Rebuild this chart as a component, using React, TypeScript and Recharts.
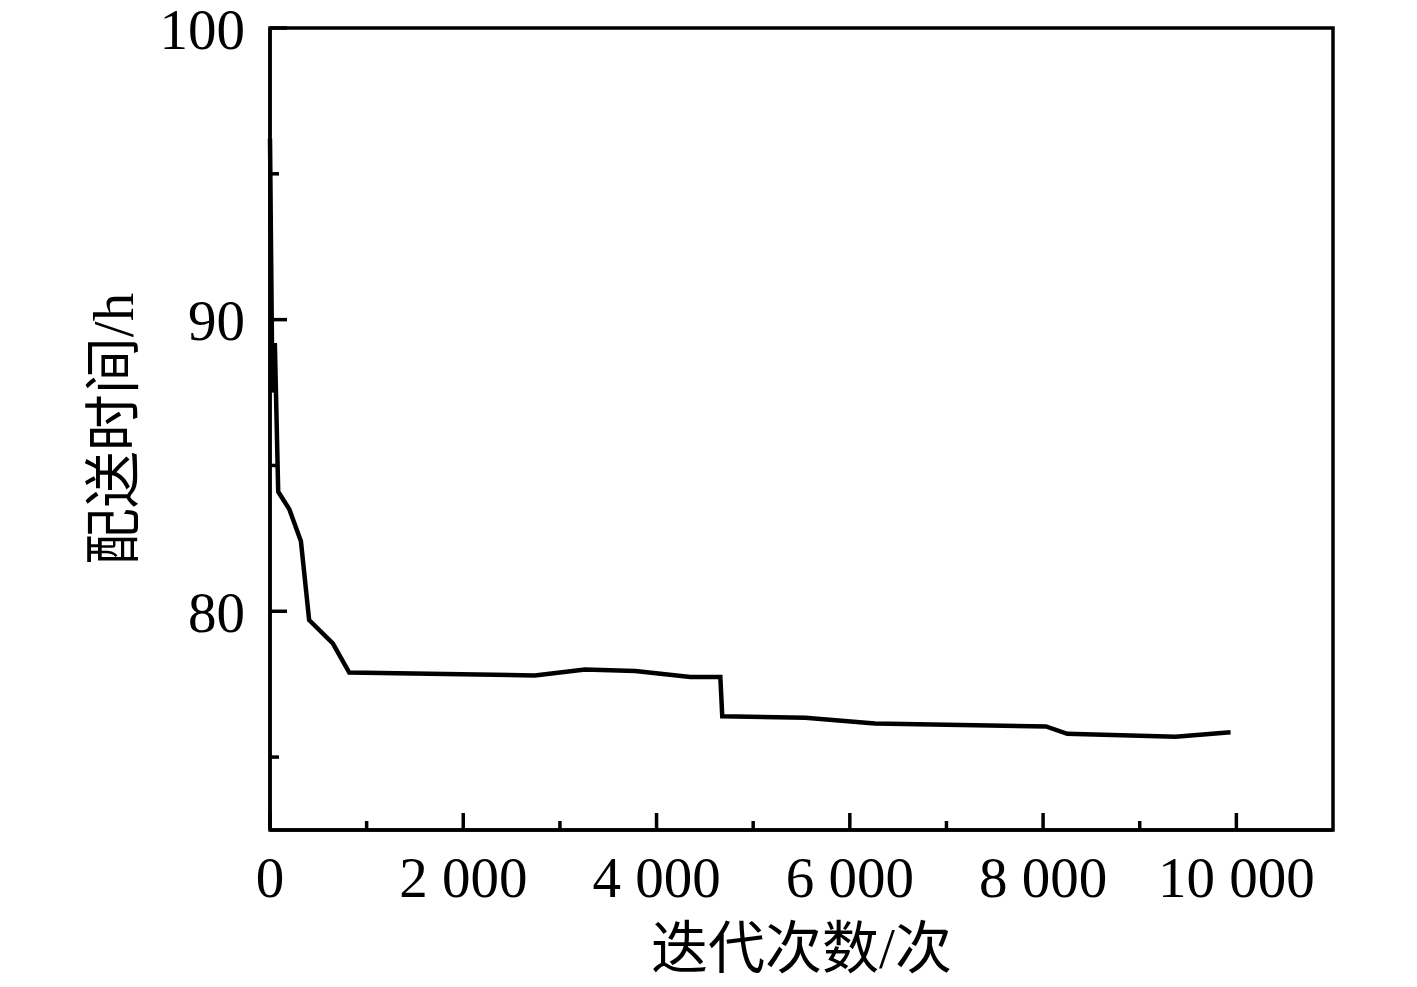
import { LineChart, Line, XAxis, YAxis, ReferenceArea, Label } from 'recharts';

const iterations = [0, 25, 50, 85, 200, 320, 405, 650, 820, 2740, 3260, 3780, 4350, 4660, 4680, 5540, 6260, 8030, 8250, 9370, 9940];
const deliveryTimes = [96.2, 87.5, 89.2, 84.1, 83.5, 82.4, 79.7, 78.9, 77.9, 77.8, 78.0, 77.95, 77.75, 77.75, 76.4, 76.35, 76.15, 76.05, 75.8, 75.7, 75.85];

const xTicks = [0, 1000, 2000, 3000, 4000, 5000, 6000, 7000, 8000, 9000, 10000];
const yTicks = [75, 80, 85, 90, 95, 100];

const data = iterations.map((it, i) => ({ it, t: deliveryTimes[i] }));

const serif = "'Liberation Serif', 'Times New Roman', 'Noto Sans CJK SC', serif";
const fmt = (v: number) => String(v).replace(/\B(?=(\d{3})+(?!\d))/g, ' ');

function XTick(props: any) {
  const { x, y, payload } = props;
  const major = payload.value % 2000 === 0;
  return (
    <g>
      <line x1={x} x2={x} y1={y} y2={y - (major ? 17 : 9)} stroke="#000" strokeWidth={3.5} />
      {major && (
        <text x={x} y={y + 47} textAnchor="middle" dominantBaseline="central" fontFamily={serif} fontSize={57} fill="#000">
          {fmt(payload.value)}
        </text>
      )}
    </g>
  );
}

function YTick(props: any) {
  const { x, y, payload } = props;
  const major = payload.value % 10 === 0;
  return (
    <g>
      <line x1={x} x2={x + (major ? 17 : 9)} y1={y} y2={y} stroke="#000" strokeWidth={3.5} />
      {major && (
        <text x={x - 25} y={y + 1} textAnchor="end" dominantBaseline="central" fontFamily={serif} fontSize={57} fill="#000">
          {payload.value}
        </text>
      )}
    </g>
  );
}

export default function App() {
  return (
    <div style={{ position: 'absolute', left: 0, top: 0, background: '#fff' }}>
      <LineChart width={1417} height={987} data={data} margin={{ top: 28, right: 84, bottom: 0, left: 0 }}>
        <XAxis
          dataKey="it"
          type="number"
          domain={[0, 11000]}
          ticks={xTicks}
          interval={0}
          height={157}
          tickSize={0}
          tickMargin={0}
          tickLine={false}
          tick={<XTick />}
          axisLine={{ stroke: '#000', strokeWidth: 3.5 }}
        >
          <Label
            content={({ viewBox }: any) => (
              <text x={viewBox.x + viewBox.width / 2} y={948} textAnchor="middle" dominantBaseline="central" fontFamily={serif} fontSize={57} fill="#000">
                迭代次数/次
              </text>
            )}
          />
        </XAxis>
        <YAxis
          type="number"
          domain={[72.5, 100]}
          ticks={yTicks}
          interval={0}
          width={270}
          tickSize={0}
          tickMargin={0}
          tickLine={false}
          tick={<YTick />}
          axisLine={{ stroke: '#000', strokeWidth: 3.5 }}
          allowDataOverflow
        >
          <Label
            content={({ viewBox }: any) => (
              <text
                x={113}
                y={viewBox.y + viewBox.height / 2}
                textAnchor="middle"
                dominantBaseline="central"
                fontFamily={serif}
                fontSize={57}
                fill="#000"
                transform={`rotate(-90, 113, ${viewBox.y + viewBox.height / 2})`}
              >
                配送时间/h
              </text>
            )}
          />
        </YAxis>
        <ReferenceArea x1={0} x2={11000} y1={72.5} y2={100} fill="none" stroke="#000" strokeWidth={3.5} ifOverflow="visible" />
        <Line type="linear" dataKey="t" stroke="#000" strokeWidth={4.5} dot={false} isAnimationActive={false} />
      </LineChart>
    </div>
  );
}
